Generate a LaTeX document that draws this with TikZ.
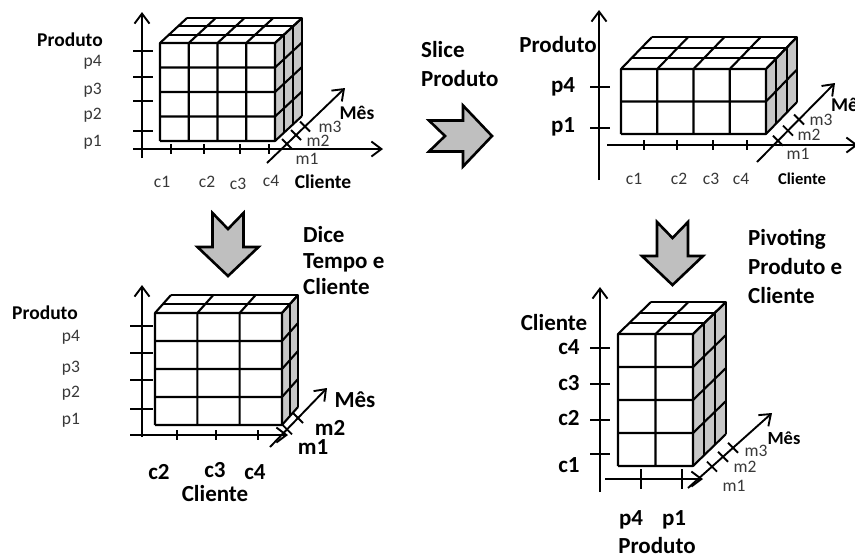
\documentclass[tikz,border=0pt]{standalone}
\usepackage{fontspec}
\setmainfont{Carlito}
\usepackage{tikz}
\usetikzlibrary{arrows.meta}

% cube of cells: #1,#2 top left of the front face, #3 columns, #4 rows,
% #5 layers, #6,#7 cell size, #8,#9 shift of one layer
\newcommand{\gridcube}[9]{%
  \begin{scope}[shift={(#1,#2)}]
    \pgfmathsetmacro\cubeW{#3*#6}
    \pgfmathsetmacro\cubeH{#4*#7}
    \pgfmathsetmacro\cubeDX{#5*#8}
    \pgfmathsetmacro\cubeDY{#5*#9}
    \fill[side] (\cubeW,0) -- ++(\cubeDX,\cubeDY) -- ++(0,\cubeH) -- (\cubeW,\cubeH) -- cycle;
    \fill[white] (0,0) rectangle (\cubeW,\cubeH);
    \fill[white] (0,0) -- (\cubeDX,\cubeDY) -- ++(\cubeW,0) -- (\cubeW,0) -- cycle;
    \foreach \i in {0,...,#3}
      \draw[cell] (\i*#6,\cubeH) -- (\i*#6,0) -- ++(\cubeDX,\cubeDY);
    \foreach \j in {0,...,#4}
      \draw[cell] (0,\j*#7) -- (\cubeW,\j*#7) -- ++(\cubeDX,\cubeDY);
    \foreach \k in {1,...,#5}
      \draw[cell] (\k*#8,\k*#9) -- ++(\cubeW,0) -- ++(0,\cubeH);
  \end{scope}}

% thick grey arrow, tail at (#1,#2), turned by #3
\newcommand{\bigarrow}[3]{%
  \draw[bigarr, shift={(#1,#2)}, rotate=#3]
    (0,-15.5) -- (34,-15.5) -- (34,-30.5) -- (63,0) -- (34,30.5)
    -- (34,15.5) -- (0,15.5) -- (16,0) -- cycle;}

\begin{document}
\begin{tikzpicture}[x=1pt, y=-1pt,
  side/.style={fill=black!22},
  cell/.style={line width=2.1pt, line join=round},
  axis/.style={line width=1.9pt, -{Straight Barb[length=10pt, width=15pt]}},
  tick/.style={line width=1.9pt},
  bigarr/.style={line width=2.6pt, fill=black!25, line join=miter},
  lbl/.style={font=\fontsize{17.5}{20}\selectfont, text=black!78, inner sep=0pt},
  tag/.style={font=\fontsize{19.5}{22}\selectfont\bfseries, inner sep=0pt},
  big/.style={font=\fontsize{23}{26}\selectfont\bfseries, inner sep=0pt},
  optxt/.style={font=\fontsize{23}{29}\selectfont\bfseries, align=left, inner sep=0pt}]

  \fill[white] (0,0) rectangle (855,558);
  \useasboundingbox (0,0) rectangle (855,558);

  % --- top left: the whole cube
  \gridcube{160}{43}{4}{4}{3}{28.75}{24.5}{9}{-8.33}
  \coordinate (tlY0) at (142,158);
  \coordinate (tlY1) at (142,12);
  \coordinate (tlX0) at (133,149);
  \coordinate (tlX1) at (383,149);
  \coordinate (tlZ0) at (267,163);
  \coordinate (tlZ1) at (345,88);
  \draw[axis] (tlY0) -- (tlY1);
  \draw[axis] (tlX0) -- (tlX1);
  \draw[axis] (tlZ0) -- (tlZ1);
  \foreach \y in {51,77,101,131} \draw[tick] (133,\y) -- (153,\y);
  \foreach \x in {171,204,240,269} \draw[tick] (\x,144) -- (\x,154);
  \foreach \x/\y in {287/144,296/135,305/126.5} \draw[tick] (\x-5,\y-5) -- (\x+5,\y+5);
  \node[tag] (tlProd) at (70,40) {Produto};
  \node[lbl, anchor=east] (tlP4) at (102,62) {p4};
  \node[lbl, anchor=east] (tlP3) at (102,90) {p3};
  \node[lbl, anchor=east] (tlP2) at (102,115) {p2};
  \node[lbl, anchor=east] (tlP1) at (102,142) {p1};
  \node[lbl] (tlC1) at (162,182) {c1};
  \node[lbl] (tlC2) at (207,182) {c2};
  \node[lbl] (tlC3) at (238,184) {c3};
  \node[lbl] (tlC4) at (271,181) {c4};
  \node[tag] (tlCli) at (323,182) {Cliente};
  \node[lbl] (tlM3) at (330,127) {m3};
  \node[lbl] (tlM2) at (318,141) {m2};
  \node[lbl] (tlM1) at (307,159) {m1};
  \node[tag] (tlMes) at (357,113) {Mês};

  % --- slice
  \bigarrow{429}{136}{0}
  \node[optxt, anchor=north west] (sliceTxt) at (421,41) {Slice\\Produto};

  % --- top right: sliced cube
  \gridcube{621}{69}{4}{2}{3}{36.25}{32.5}{10.33}{-10.67}
  \coordinate (trY0) at (599,180);
  \coordinate (trY1) at (599,10);
  \coordinate (trX0) at (607,145);
  \coordinate (trX1) at (858,145);
  \coordinate (trZ0) at (757,162);
  \coordinate (trZ1) at (835,83);
  \draw[axis] (trY0) -- (trY1);
  \draw[axis] (trX0) -- (trX1);
  \draw[axis] (trZ0) -- (trZ1);
  \foreach \y in {87,128} \draw[tick] (590,\y) -- (610,\y);
  \foreach \x in {644,677,713,747} \draw[tick] (\x,140) -- (\x,150);
  \foreach \x/\y in {778/140.7,788/130.6,799/119.5} \draw[tick] (\x-5,\y-5) -- (\x+5,\y+5);
  \node[big] (trProd) at (558,45) {Produto};
  \node[big] (trP4) at (563,87) {p4};
  \node[big] (trP1) at (563,127) {p1};
  \node[lbl] (trC1) at (634,179) {c1};
  \node[lbl] (trC2) at (679,179) {c2};
  \node[lbl] (trC3) at (711,179) {c3};
  \node[lbl] (trC4) at (741,179) {c4};
  \node[tag, font=\fontsize{16.5}{20}\selectfont\bfseries] (trCli) at (802,179) {Cliente};
  \node[lbl] (trM3) at (821,120) {m3};
  \node[lbl] (trM2) at (809,135) {m2};
  \node[lbl] (trM1) at (798,154) {m1};
  \node[tag, anchor=west] (trMes) at (831,105) {Mês};

  % --- dice
  \bigarrow{228}{213}{-90}
  \node[optxt, anchor=north west, font=\fontsize{23}{26}\selectfont\bfseries] (diceTxt) at (303,226) {Dice\\Tempo e\\Cliente};

  % --- bottom left: diced cube
  \gridcube{155}{313}{3}{4}{2}{42.33}{28}{8}{-9}
  \coordinate (blY0) at (142,437);
  \coordinate (blY1) at (142,285);
  \coordinate (blX0) at (130,435);
  \coordinate (blX1) at (288,435);
  \coordinate (blZ0) at (270,447);
  \coordinate (blZ1) at (327,388);
  \draw[axis] (blY0) -- (blY1);
  \draw[axis] (blX0) -- (blX1);
  \draw[axis] (blZ0) -- (blZ1);
  \foreach \y in {326,353,380,409} \draw[tick] (130,\y) -- (153,\y);
  \foreach \x in {177,216,258} \draw[tick] (\x,430) -- (\x,440);
  \foreach \x/\y in {287/429.4,298/418} \draw[tick] (\x-5,\y-5) -- (\x+5,\y+5);
  \node[tag] (blProd) at (45,313) {Produto};
  \node[lbl] (blP4) at (71,337) {p4};
  \node[lbl] (blP3) at (71,368) {p3};
  \node[lbl] (blP2) at (71,393) {p2};
  \node[lbl] (blP1) at (71,420) {p1};
  \node[big] (blC2) at (159,472) {c2};
  \node[big] (blC3) at (215,470) {c3};
  \node[big] (blC4) at (255,472) {c4};
  \node[big] (blCli) at (215,494) {Cliente};
  \node[big] (blM2) at (330,428) {m2};
  \node[big] (blM1) at (313,447) {m1};
  \node[big] (blMes) at (355,400) {Mês};

  % --- pivoting
  \bigarrow{672.5}{222}{-90}
  \node[optxt, anchor=north west] (pivotTxt) at (748,229) {Pivoting\\Produto e\\Cliente};

  % --- bottom right: pivoted cube
  \gridcube{618}{334}{2}{4}{3}{37.5}{33}{11}{-10.67}
  \coordinate (brY0) at (600,492);
  \coordinate (brY1) at (600,287);
  \coordinate (brX0) at (605,479);
  \coordinate (brX1) at (703,479);
  \coordinate (brZ0) at (688,488);
  \coordinate (brZ1) at (772,413);
  \draw[axis] (brY0) -- (brY1);
  \draw[axis] (brX0) -- (brX1);
  \draw[axis] (brZ0) -- (brZ1);
  \foreach \y in {348,384,420,454} \draw[tick] (590,\y) -- (610,\y);
  \foreach \x in {641,682} \draw[tick] (\x,469) -- (\x,489);
  \foreach \x/\y in {712/466.6,723/456.8,733/447.8} \draw[tick] (\x-5,\y-5) -- (\x+5,\y+5);
  \node[big] (brCli) at (554,323) {Cliente};
  \node[big] (brC4) at (569,347) {c4};
  \node[big] (brC3) at (569,383) {c3};
  \node[big] (brC2) at (569,418) {c2};
  \node[big] (brC1) at (569,465) {c1};
  \node[big] (brP4) at (631,520) {p4};
  \node[big] (brP1) at (674,520) {p1};
  \node[big] (brProd) at (657,546) {Produto};
  \node[lbl] (brM3) at (756,451) {m3};
  \node[lbl] (brM2) at (745,467) {m2};
  \node[lbl] (brM1) at (734,486) {m1};
  \node[tag, font=\fontsize{18.5}{22}\selectfont\bfseries] (brMes) at (784,438) {Mês};
\end{tikzpicture}
\end{document}
